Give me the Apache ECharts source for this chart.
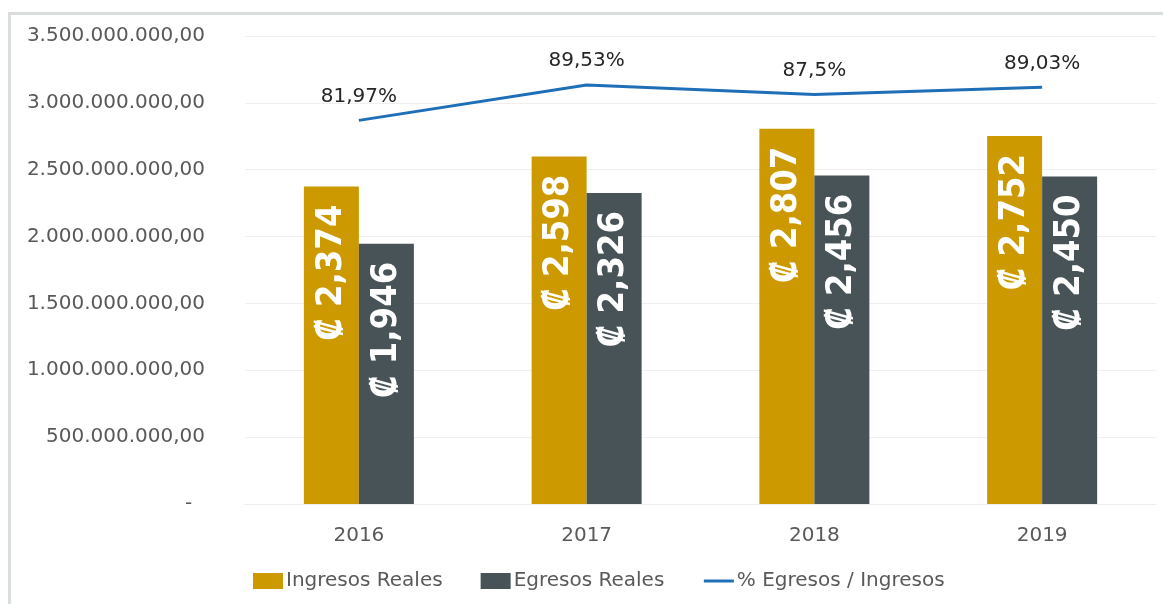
<!DOCTYPE html>
<html>
<head>
<meta charset="utf-8">
<script src="https://cdn.jsdelivr.net/npm/echarts@6/dist/echarts.min.js"></script>
<style>
  html, body { margin: 0; padding: 0; background: #fff; }
  #frame { position: absolute; left: 8px; top: 12px; width: 1200px; height: 640px;
           border-left: 3px solid #d9dedc; border-top: 3px solid #d9dedc; }
  #chart { position: absolute; left: 0; top: 0; width: 1163px; height: 604px; }
</style>
</head>
<body>
<div id="frame"></div>
<div id="chart"></div>
<script>
const years = ['2016', '2017', '2018', '2019'];
const ingresos = [2374000000, 2598000000, 2807000000, 2752000000];
const egresos = [1946000000, 2326000000, 2456000000, 2450000000];
const porcentaje = [0.8197, 0.8953, 0.875, 0.8903];

const chart = echarts.init(document.getElementById('chart'));

// 2.374.000.000 -> "2.374.000.000,00", cero como "-"
function fmtAxis(v) {
  if (v === 0) return '-  ';
  return v.toLocaleString('de-DE', { minimumFractionDigits: 2, maximumFractionDigits: 2 });
}

const barLabel = {
  show: true,
  position: 'insideTop',
  distance: 18,
  rotate: 90,
  align: 'right',
  verticalAlign: 'middle',
  color: '#fff',
  fontSize: 36,
  fontWeight: 'bold',
  fontFamily: '"DejaVu Sans Condensed", "DejaVu Sans", sans-serif',
  formatter: p => '₡ ' + (p.value / 1e6).toLocaleString('en-US')
};

const font = '"DejaVu Sans", sans-serif';

chart.setOption({
  animation: false,
  textStyle: { fontFamily: font },
  grid: { left: 245, right: 7, top: 36, bottom: 100 },
  legend: {
    bottom: 8,
    left: 248,
    itemGap: 38,
    itemWidth: 30,
    itemHeight: 16,
    textStyle: { fontSize: 20, color: '#595959', fontFamily: font, padding: [0, 0, 0, -2] },
    data: [
      { name: 'Ingresos Reales', icon: 'rect' },
      { name: 'Egresos Reales', icon: 'rect' },
      { name: '% Egresos / Ingresos', itemStyle: { opacity: 0 }, lineStyle: { width: 3 } }
    ]
  },
  xAxis: {
    type: 'category',
    data: years,
    axisLine: { lineStyle: { color: '#eeeeee' } },
    axisTick: { show: false },
    axisLabel: { fontSize: 20, color: '#595959', margin: 22 }
  },
  yAxis: [
    {
      type: 'value',
      min: 0,
      max: 3500000000,
      interval: 500000000,
      axisLine: { show: false },
      axisTick: { show: false },
      splitLine: { lineStyle: { color: '#efefef' } },
      axisLabel: { fontSize: 20, color: '#595959', margin: 40, formatter: fmtAxis }
    },
    { type: 'value', min: 0, max: 1, show: false, splitLine: { show: false } }
  ],
  series: [
    {
      name: 'Ingresos Reales',
      type: 'bar',
      data: ingresos,
      barWidth: 55,
      barGap: '0%',
      itemStyle: { color: '#cc9a00' },
      label: barLabel
    },
    {
      name: 'Egresos Reales',
      type: 'bar',
      data: egresos,
      barWidth: 55,
      itemStyle: { color: '#475356' },
      label: barLabel
    },
    {
      name: '% Egresos / Ingresos',
      type: 'line',
      yAxisIndex: 1,
      data: porcentaje,
      symbol: 'circle',
      symbolSize: 0,
      lineStyle: { color: '#1f6fb8', width: 3 },
      itemStyle: { color: '#1f6fb8' },
      label: {
        show: true,
        position: 'top',
        distance: 14,
        fontSize: 20,
        color: '#262626',
        formatter: p => (Math.round(p.value * 10000) / 100).toLocaleString('de-DE') + '%'
      }
    }
  ]
});
</script>
</body>
</html>
